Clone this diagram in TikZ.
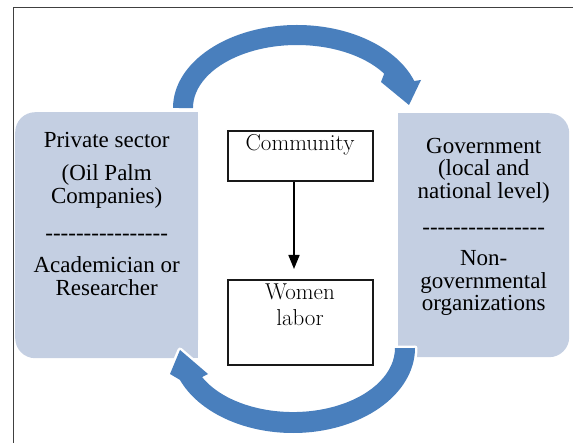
\documentclass[tikz,border=0pt]{standalone}
\usepackage{fontspec}
\newfontfamily\sidefont{Liberation Serif}
\usetikzlibrary{arrows.meta, positioning, backgrounds}
\definecolor{sidefill}{RGB}{196,207,226}
\definecolor{arrowblue}{RGB}{73,127,189}
\newcommand{\dashrow}{\foreach \k in {1,...,16}{\mbox{-}}}

\begin{document}
\begin{tikzpicture}[x=1pt, y=-1pt,
    sidebox/.style={fill=sidefill, rounded corners=20pt, inner sep=0pt, font=\sidefont\fontsize{23}{22.5}\selectfont},
    midbox/.style={draw=black!90, line width=2pt, inner sep=0pt, minimum width=145pt, font=\fontsize{23}{26}\selectfont},
    bigarrow/.style={fill=arrowblue, preaction={draw=white, line width=5pt, line join=round}},
    frame/.style={draw=black!75, line width=1pt}]
    \useasboundingbox (0,0) rectangle (573,443);
    \draw[frame] (13,443) -- (13,8) -- (573,8);

    \node[sidebox, minimum width=183pt, text height=35pt, text depth=211pt, anchor=north west] (Pv) at (15,112)
        {\begin{tabular}[t]{@{}c@{}}Private sector\\[10.5pt] (Oil Palm\\ Companies)\\[15pt] \dashrow\\[9.5pt] Academician or\\ Researcher\end{tabular}};
    \node[sidebox, minimum width=171pt, text height=40pt, text depth=204pt, anchor=north west] (Gov) at (398,113)
        {\begin{tabular}[t]{@{}c@{}}Government\\ (local and\\ national level)\\[13.5pt] \dashrow\\[8.5pt] Non-\\ governmental\\ organizations\end{tabular}};
    \begin{scope}[on background layer]
        \fill[sidefill] (Pv.north) rectangle (Pv.south east);
        \fill[sidefill] (Gov.north west) rectangle (Gov.south);
    \end{scope}

    \node[midbox, text height=20pt, text depth=30pt, anchor=north] (Com) at (300,130) {Community};
    \node[midbox, text height=20pt, text depth=65pt, below=97pt of Com] (Wom)
        {\begin{tabular}[t]{@{}c@{}}Women\\ labor\end{tabular}};
    \draw[-{Triangle[width=11pt, length=14pt]}, line width=1.6pt, shorten >=10pt] ([xshift=-6pt]Com.south) -- ([xshift=-6pt]Wom.north);

    \path[bigarrow] (173,108) arc[start angle=180, end angle=341, x radius=124, y radius=83]
        -- (421,80) -- (409,105) -- (381,82) -- (384.2,73.7)
        arc[start angle=327, end angle=180, x radius=104, y radius=63] -- cycle;
    \path[bigarrow] (415,348) arc[start angle=0, end angle=158, x radius=122, y radius=85]
        -- (170,374) -- (180,350) -- (208,374) -- (202.1,377.1)
        arc[start angle=153, end angle=0, x radius=102, y radius=64] -- cycle;
\end{tikzpicture}
\end{document}
